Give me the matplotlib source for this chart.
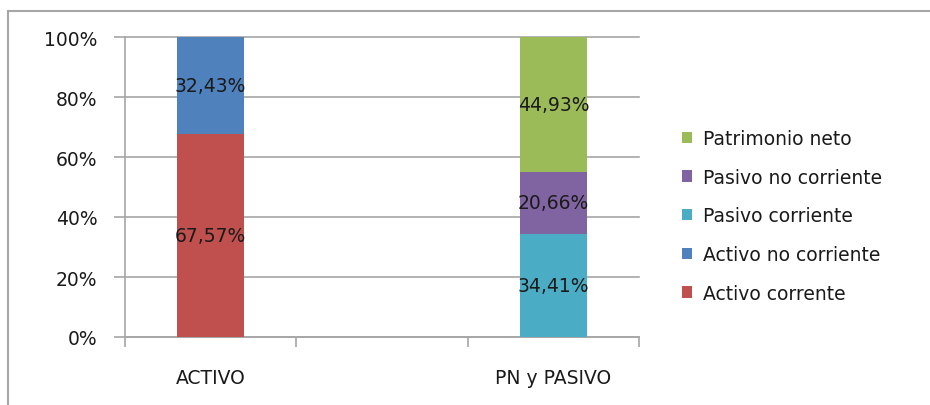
import matplotlib
matplotlib.use("Agg")
import matplotlib.pyplot as plt
import numpy as np
from matplotlib.patches import Rectangle

plt.rcParams['font.family'] = ['DejaVu Sans']

categories = ["ACTIVO", "", "PN y PASIVO"]
series_names = ["Activo corrente", "Activo no corriente", "Pasivo corriente",
                "Pasivo no corriente", "Patrimonio neto"]
activo_corrente = [67.57, 0, 0]
activo_no_corriente = [32.43, 0, 0]
pasivo_corriente = [0, 0, 34.41]
pasivo_no_corriente = [0, 0, 20.66]
patrimonio_neto = [0, 0, 44.93]
series_values = [activo_corrente, activo_no_corriente, pasivo_corriente,
                 pasivo_no_corriente, patrimonio_neto]
colors = ["#C0504D", "#4F81BD", "#4BACC6", "#8064A2", "#9BBB59"]
yticks = [0, 20, 40, 60, 80, 100]
ytick_labels = ["0%", "20%", "40%", "60%", "80%", "100%"]

FS = 13.5
W, H = 930, 406
fig = plt.figure(figsize=(W / 100, H / 100), dpi=100)
fig.patch.set_facecolor("white")
# outer chart frame
fig.patches.append(Rectangle((8 / W, -0.1), 1.2, (H - 12) / H + 0.1,
                             transform=fig.transFigure, fill=False,
                             edgecolor="#A6A6A6", linewidth=1.5))

ax = fig.add_axes([125 / W, (H - 338) / H, (639 - 125) / W, 300 / H])
x = np.arange(len(categories))
bottom = np.zeros(len(categories))
handles = []
for name, vals, c in zip(series_names, series_values, colors):
    vals = np.array(vals, dtype=float)
    bars = ax.bar(x, vals, bottom=bottom, width=0.39, color=c, label=name, zorder=3)
    handles.append(bars)
    for xi, v, b in zip(x, vals, bottom):
        if v > 0:
            ax.text(xi, b + v / 2, f"{v:.2f}%".replace(".", ","), ha="center",
                    va="center", fontsize=FS, color="#1a1a1a", zorder=4)
    bottom += vals

ax.set_xlim(-0.5, len(categories) - 0.5)
ax.set_ylim(0, 100)
ax.set_yticks(yticks)
ax.set_yticklabels(ytick_labels, fontsize=FS, color="#1a1a1a")
ax.yaxis.grid(True, color="#A6A6A6", linewidth=1.2, zorder=0)
for gl in ax.get_ygridlines():
    gl.set_clip_on(False)
ax.set_axisbelow(True)
ax.set_xticks(np.arange(-0.5, len(categories), 1.0))
ax.set_xticklabels([])
ax.set_xticks(x, minor=True)
ax.set_xticklabels(categories, minor=True, fontsize=FS, color="#1a1a1a")
ax.tick_params(axis="x", which="major", length=7, color="#A6A6A6", width=1.2)
ax.tick_params(axis="x", which="minor", length=0, pad=22)
ax.tick_params(axis="y", length=8, color="#A6A6A6", width=1.2, pad=12)
for s in ["top", "right"]:
    ax.spines[s].set_visible(False)
for s in ["left", "bottom"]:
    ax.spines[s].set_color("#A6A6A6")
    ax.spines[s].set_linewidth(1.2)

leg = ax.legend(handles[::-1], series_names[::-1], loc="upper left",
                bbox_to_anchor=(682 / W, (H - 130) / H), bbox_transform=fig.transFigure,
                frameon=False, fontsize=FS, handlelength=0.55, handleheight=0.55,
                handletextpad=0.55, labelspacing=1.05, borderpad=0, borderaxespad=0)
for t in leg.get_texts():
    t.set_color("#1a1a1a")

fig.savefig("out.png", dpi=100, facecolor="white")
